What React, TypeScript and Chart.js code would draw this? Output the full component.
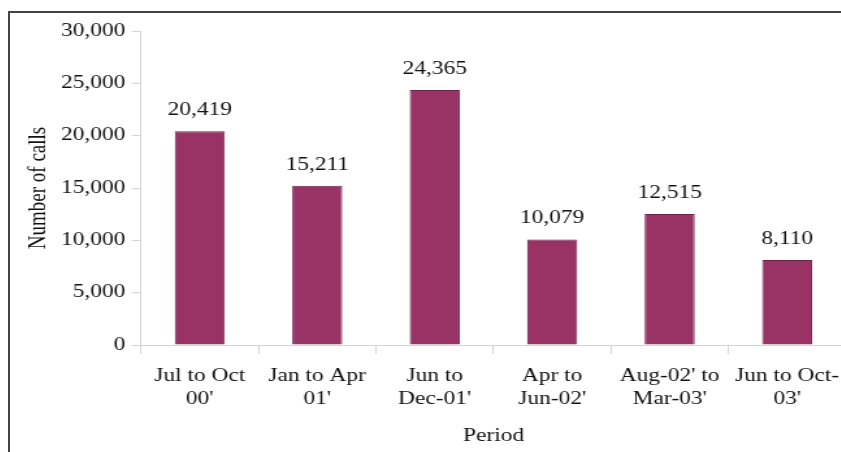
import React, { useEffect, useRef } from "react";
import { Chart, registerables } from "chart.js";

Chart.register(...registerables);

const categories: string[][] = [
  ["Jul to Oct", "00'"],
  ["Jan to Apr", "01'"],
  ["Jun to", "Dec-01'"],
  ["Apr to", "Jun-02'"],
  ["Aug-02' to", "Mar-03'"],
  ["Jun to Oct-", "03'"],
];
const calls: number[] = [20419, 15211, 24365, 10079, 12515, 8110];
const yTicks = { min: 0, max: 30000, step: 5000 };
const xTitle = "Period";
const yTitle = "Number of calls";

const FONT = "'Liberation Serif', 'Times New Roman', serif";
const STRETCH = 1.3;
const TEXT = "#111";

const fmt = (v: number) => v.toLocaleString("en-US");

const valueLabels = {
  id: "valueLabels",
  afterDatasetsDraw(chart: any) {
    const ctx = chart.ctx;
    const meta = chart.getDatasetMeta(0);
    ctx.save();
    ctx.font = `18px ${FONT}`;
    ctx.fillStyle = TEXT;
    ctx.textAlign = "center";
    ctx.textBaseline = "middle";
    meta.data.forEach((bar: any, i: number) => {
      ctx.fillText(fmt(calls[i]), bar.x, bar.y - 21);
    });
    ctx.restore();
  },
};

export default function App() {
  const ref = useRef<HTMLCanvasElement | null>(null);

  useEffect(() => {
    if (!ref.current) return;
    const axisColor = "#d4d4d4";
    const chart = new Chart(ref.current, {
      type: "bar",
      data: {
        labels: categories,
        datasets: [
          {
            data: calls,
            backgroundColor: "#993366",
            borderColor: "#6e2347",
            borderWidth: 1,
            barPercentage: 0.426,
            categoryPercentage: 1,
          },
        ],
      },
      plugins: [valueLabels],
      options: {
        responsive: false,
        animation: false,
        devicePixelRatio: 1,
        layout: { padding: { top: 18, right: 17, bottom: 6, left: 0 } },
        plugins: {
          legend: { display: false },
          tooltip: { enabled: false },
        },
        scales: {
          x: {
            grid: {
              display: true,
              drawOnChartArea: false,
              drawTicks: true,
              tickLength: 9,
              color: axisColor,
              offset: true,
            },
            border: { display: true, color: axisColor },
            ticks: {
              color: TEXT,
              font: { family: FONT, size: 18, lineHeight: "23px" },
              padding: 11,
              maxRotation: 0,
              minRotation: 0,
              autoSkip: false,
            },
            title: {
              display: true,
              text: xTitle,
              color: TEXT,
              font: { family: FONT, size: 18 },
              padding: { top: 0, bottom: 0 },
            },
            afterFit: (scale: any) => {
              scale.height = 102;
            },
          },
          y: {
            min: yTicks.min,
            max: yTicks.max,
            grid: {
              display: true,
              drawOnChartArea: false,
              drawTicks: true,
              tickLength: 7,
              color: axisColor,
            },
            border: { display: true, color: axisColor },
            ticks: {
              stepSize: yTicks.step,
              color: TEXT,
              font: { family: FONT, size: 18 },
              padding: 5,
              callback: (v: any) => fmt(Number(v)),
            },
            title: {
              display: true,
              text: yTitle,
              color: TEXT,
              font: { family: FONT, size: 19 },
              padding: { top: 11, bottom: 0 },
            },
            afterFit: (scale: any) => {
              scale.width = 100.8;
            },
          },
        },
      },
    });
    return () => chart.destroy();
  }, []);

  return (
    <div
      style={{
        position: "fixed",
        top: 0,
        left: 0,
        width: 841,
        height: 452,
        overflow: "hidden",
        background: "#fff",
      }}
    >
      <div
        style={{
          position: "absolute",
          top: 11,
          left: 8,
          width: 900,
          height: 500,
          borderTop: "2px solid #444",
          borderLeft: "2px solid #444",
        }}
      >
        <canvas
          ref={ref}
          width={660}
          height={440}
          style={{
            display: "block",
            transform: `scaleX(${STRETCH})`,
            transformOrigin: "0 0",
          }}
        />
      </div>
    </div>
  );
}
